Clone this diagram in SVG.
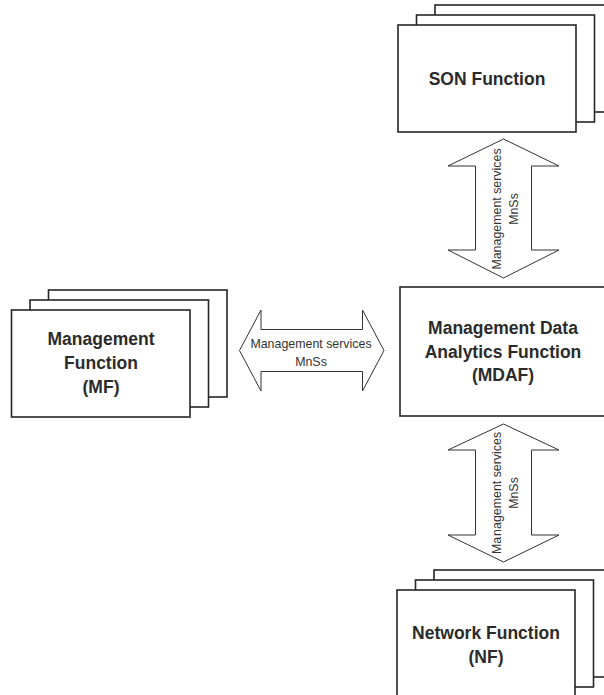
<svg xmlns="http://www.w3.org/2000/svg" width="604" height="695" viewBox="0 0 604 695">
<style>
.box{fill:#fff;stroke:#262626;stroke-width:1.6}
.arrow{fill:#fff;stroke:#333;stroke-width:1}
.title{font-family:"Liberation Sans",Arial,sans-serif;font-weight:bold;font-size:17.5px;fill:#2b2b2b;text-anchor:middle}
.lbl{font-family:"Liberation Sans",Arial,sans-serif;font-size:12.4px;fill:#333;text-anchor:middle}
</style>
<rect width="604" height="695" fill="#fff"/>
<g id="son">
<rect class="box" x="435" y="5" width="178" height="107"/>
<rect class="box" x="416.5" y="15" width="178" height="107"/>
<rect class="box" x="398" y="25" width="178" height="107"/>
<text class="title" x="487" y="84.5">SON Function</text>
</g>
<g id="mf">
<rect class="box" x="48.5" y="290" width="178.5" height="107"/>
<rect class="box" x="30" y="300" width="178.5" height="107"/>
<rect class="box" x="11.5" y="310" width="178.5" height="107"/>
<text class="title" x="101" y="345">Management</text>
<text class="title" x="101" y="369">Function</text>
<text class="title" x="101" y="393">(MF)</text>
</g>
<g id="mdaf">
<rect class="box" x="400" y="287" width="206" height="129"/>
<text class="title" x="503" y="334">Management Data</text>
<text class="title" x="503" y="357.5">Analytics Function</text>
<text class="title" x="503" y="381">(MDAF)</text>
</g>
<g id="nf">
<rect class="box" x="434" y="570" width="178" height="107"/>
<rect class="box" x="415.5" y="580" width="178" height="107"/>
<rect class="box" x="397" y="590" width="178" height="107"/>
<text class="title" x="486" y="639">Network Function</text>
<text class="title" x="486" y="663">(NF)</text>
</g>
<g id="connectors">
<polygon class="arrow" points="239.5,350.5 261,310 261,329.5 362.5,329.5 362.5,310 384,350.5 362.5,391 362.5,371.5 261,371.5 261,391"/>
<text class="lbl" x="311" y="348">Management services</text>
<text class="lbl" x="311" y="365.5">MnSs</text>
<polygon class="arrow" points="503.5,139 559,166 531.5,166 531.5,250 559,250 503.5,278 448,250 475.5,250 475.5,166 448,166"/>
<text class="lbl" transform="translate(501,209) rotate(-90)">Management services</text>
<text class="lbl" transform="translate(518,209) rotate(-90)">MnSs</text>
<polygon class="arrow" points="503.5,424 559,450 531.5,450 531.5,535 559,535 503.5,562 448,535 475.5,535 475.5,450 448,450"/>
<text class="lbl" transform="translate(501,493) rotate(-90)"><tspan>Ma</tspan><tspan dx="1">nagement services</tspan></text>
<text class="lbl" transform="translate(518,493) rotate(-90)">MnSs</text>
</g>
</svg>
